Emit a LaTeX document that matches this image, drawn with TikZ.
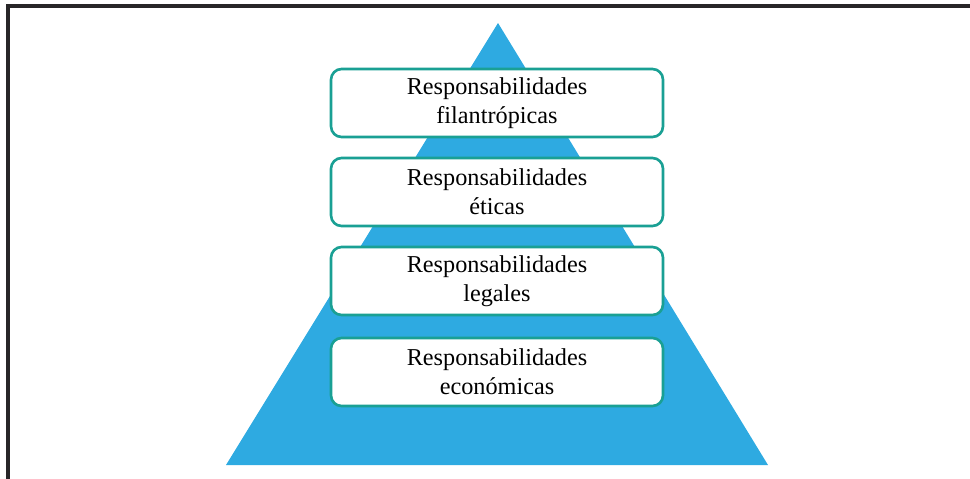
\documentclass[tikz,border=0pt]{standalone}
\usepackage{fontspec}
\setmainfont{Liberation Serif}
\usetikzlibrary{shapes,positioning,calc}

\definecolor{pyrblue}{RGB}{46,170,225}
\definecolor{boxteal}{RGB}{26,160,148}
\definecolor{framegray}{RGB}{40,38,40}

\begin{document}
\begin{tikzpicture}[
    x=0.02cm, y=-0.02cm,
    % Define styles
    levelbox/.style={
        rectangle,
        draw=boxteal,
        line width=1.5pt,
        fill=white,
        minimum width=6.64cm,
        minimum height=1.36cm,
        align=center,
        rounded corners=6pt,
        font=\rmfamily\fontsize{13.8}{16.5}\selectfont
    },
    frameline/.style={draw=framegray, line width=2pt}
]

% Page bounds
\useasboundingbox (0,0) rectangle (970,478);

% Frame
\coordinate (frame_corner) at (8,6);
\coordinate (frame_right) at (972,6);
\coordinate (frame_bottom) at (8,480);
\draw[frameline] (frame_bottom) -- (frame_corner) -- (frame_right);

% Pyramid
\coordinate (apex) at (498,23);
\coordinate (base_left) at (226,465);
\coordinate (base_right) at (768,465);
\fill[pyrblue] (base_left) -- (apex) -- (base_right) -- cycle;

% Levels
\node[levelbox] (philanthropic) at (497,103) {Responsabilidades\\filantrópicas};
\node[levelbox] (ethical) at (497,192) {Responsabilidades\\éticas};
\node[levelbox] (legal) at (497,281) {Responsabilidades\\legales};
\node[levelbox] (economic) at (497,372) {Responsabilidades\\económicas};

\end{tikzpicture}
\end{document}
